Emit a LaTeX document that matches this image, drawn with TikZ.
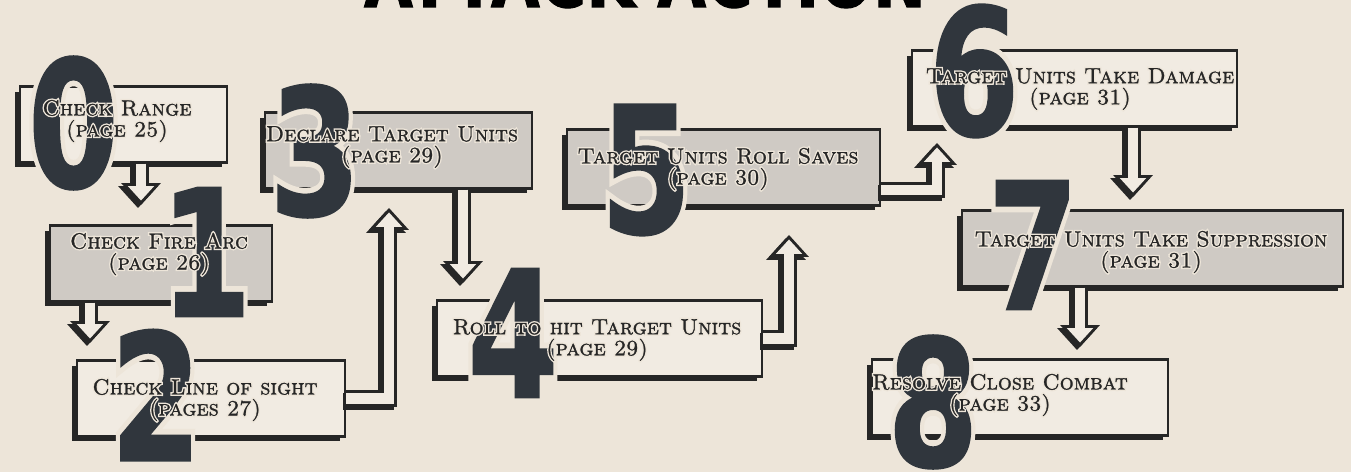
\documentclass[tikz,border=0pt]{standalone}
\usepackage{fontspec}
\usetikzlibrary{arrows.meta,shadows}
\newfontfamily\numfont{DejaVuSans-Bold.ttf}[FakeBold=1.5]
\newfontfamily\numhalofont{DejaVuSans-Bold.ttf}[FakeBold=8]
\newfontfamily\labelfont{lmromancaps10-regular.otf}[FakeBold=1.2]
\newfontfamily\labelhalofont{lmromancaps10-regular.otf}[FakeBold=14]
\definecolor{paper}{HTML}{EDE5D9}
\definecolor{boxwhite}{HTML}{F1EBE2}
\definecolor{boxgrey}{HTML}{CFCAC4}
\definecolor{ink}{HTML}{262626}
\definecolor{numcol}{HTML}{30363D}

\tikzset{
  stepbox/.style={rectangle, draw=ink, line width=1.4pt, minimum width=#1, minimum height=1.52cm, inner sep=0pt,
    drop shadow={shadow xshift=-0.1cm, shadow yshift=-0.1cm, fill=ink, opacity=1}},
  plainbox/.style={stepbox=#1, fill=boxwhite},
  greybox/.style={stepbox=#1, fill=boxgrey},
  numeral/.style={inner sep=0pt, text=numcol, font=\numfont\fontsize{100}{100}\selectfont},
  numhalo/.style={numeral, text=paper, font=\numhalofont\fontsize{100}{100}\selectfont},
  steptext/.style={align=center, text=ink, inner sep=0pt, font=\labelfont\fontsize{12.5}{12}\selectfont},
  texthalo/.style={steptext, text=paper, font=\labelhalofont\fontsize{12.5}{12}\selectfont},
  flow/.style={draw=ink, line width=9.6pt, line join=miter,
    -{Triangle[length=12.5pt, width=22.7pt, line width=0pt]},
    preaction={draw=ink, line width=9.6pt, transform canvas={shift={(-3,3)}},
      -{Triangle[length=12.5pt, width=22.7pt, line width=0pt]}},
    postaction={draw=boxwhite, line width=6.2pt, shorten >=2.55pt,
      -{Triangle[length=8.2pt, width=15pt, line width=0pt]}}}
}

\begin{document}
\begin{tikzpicture}[x=0.02cm, y=-0.02cm]
  \fill[paper] (0,0) rectangle (1351,472);
  \useasboundingbox (0,0) rectangle (1351,472);

  % title, only its foot shows
  \node[anchor=base, inner sep=0pt, text=black, font=\numfont\fontsize{45}{45}\selectfont] (title) at (645,7) {\scalebox{0.8}[1]{ATTACK ACTION}};

  % boxes
  \node[plainbox=4.14cm] (b0) at (123.5,124.5) {};
  \node[greybox=4.44cm]  (b1) at (161,263.5) {};
  \node[plainbox=5.36cm] (b2) at (211,398.5) {};
  \node[greybox=5.34cm]  (b3) at (398.5,150.5) {};
  \node[plainbox=6.5cm]  (b4) at (599.5,338.5) {};
  \node[greybox=6.26cm]  (b5) at (723.5,167.5) {};
  \node[plainbox=6.5cm]  (b6) at (1074.5,88.5) {};
  \node[greybox=7.62cm]  (b7) at (1152.5,248.5) {};
  \node[plainbox=5.92cm] (b8) at (1020,397.5) {};

  % arrow tips
  \coordinate (t01) at (141,205);
  \coordinate (t12) at (90,343);
  \coordinate (t23) at (389,208);
  \coordinate (t34) at (463,283);
  \coordinate (t45) at (789,235);
  \coordinate (y56) at (0,190);
  \coordinate (t56) at (937,143);
  \coordinate (t67) at (1133,197);
  \coordinate (t78) at (1080,347);

  \draw[flow] (b0.south -| t01) -- (t01);
  \draw[flow] (b1.south -| t12) -- (t12);
  \draw[flow] (b2.east) -| (t23);
  \draw[flow] (b3.south -| t34) -- (t34);
  \draw[flow] (b4.east) -| (t45);
  \draw[flow] (b5.east |- y56) -| (t56);
  \draw[flow] (b6.south -| t67) -- (t67);
  \draw[flow] (b7.south -| t78) -- (t78);

  % big step numbers
  \foreach \d/\x/\y in {0/73.5/123, 1/206/252, 2/156/395, 3/315/151, 4/513/333,
                        5/646/170, 6/974/71, 7/1033/245, 8/933/402} {
    \node[numhalo] (h\d) at (\x,\y) {\scalebox{0.74}[1]{\d}};
    \node[numeral] (n\d) at (\x,\y) {\scalebox{0.74}[1]{\d}};
  }

  % labels
  \foreach \i/\x/\y/\top/\bot in {0/117/121/Check Range/(page 25),
      1/159/254/Check Fire Arc/(page 26),
      2/205/400/Check Line of sight/(pages 27),
      3/392/147/Declare Target Units/(page 29),
      4/597/340/Roll to hit Target Units/(page 29),
      5/718/169/Target Units Roll Saves/(page 30),
      6/1080/89/Target Units Take Damage/(page 31),
      7/1151/252/Target Units Take Suppression/(page 31),
      8/1000/395/Resolve Close Combat/(page 33)} {
    \node[texthalo] (k\i) at (\x,\y) {\top\\\bot};
    \node[steptext] (l\i) at (\x,\y) {\top\\\bot};
  }
\end{tikzpicture}
\end{document}
